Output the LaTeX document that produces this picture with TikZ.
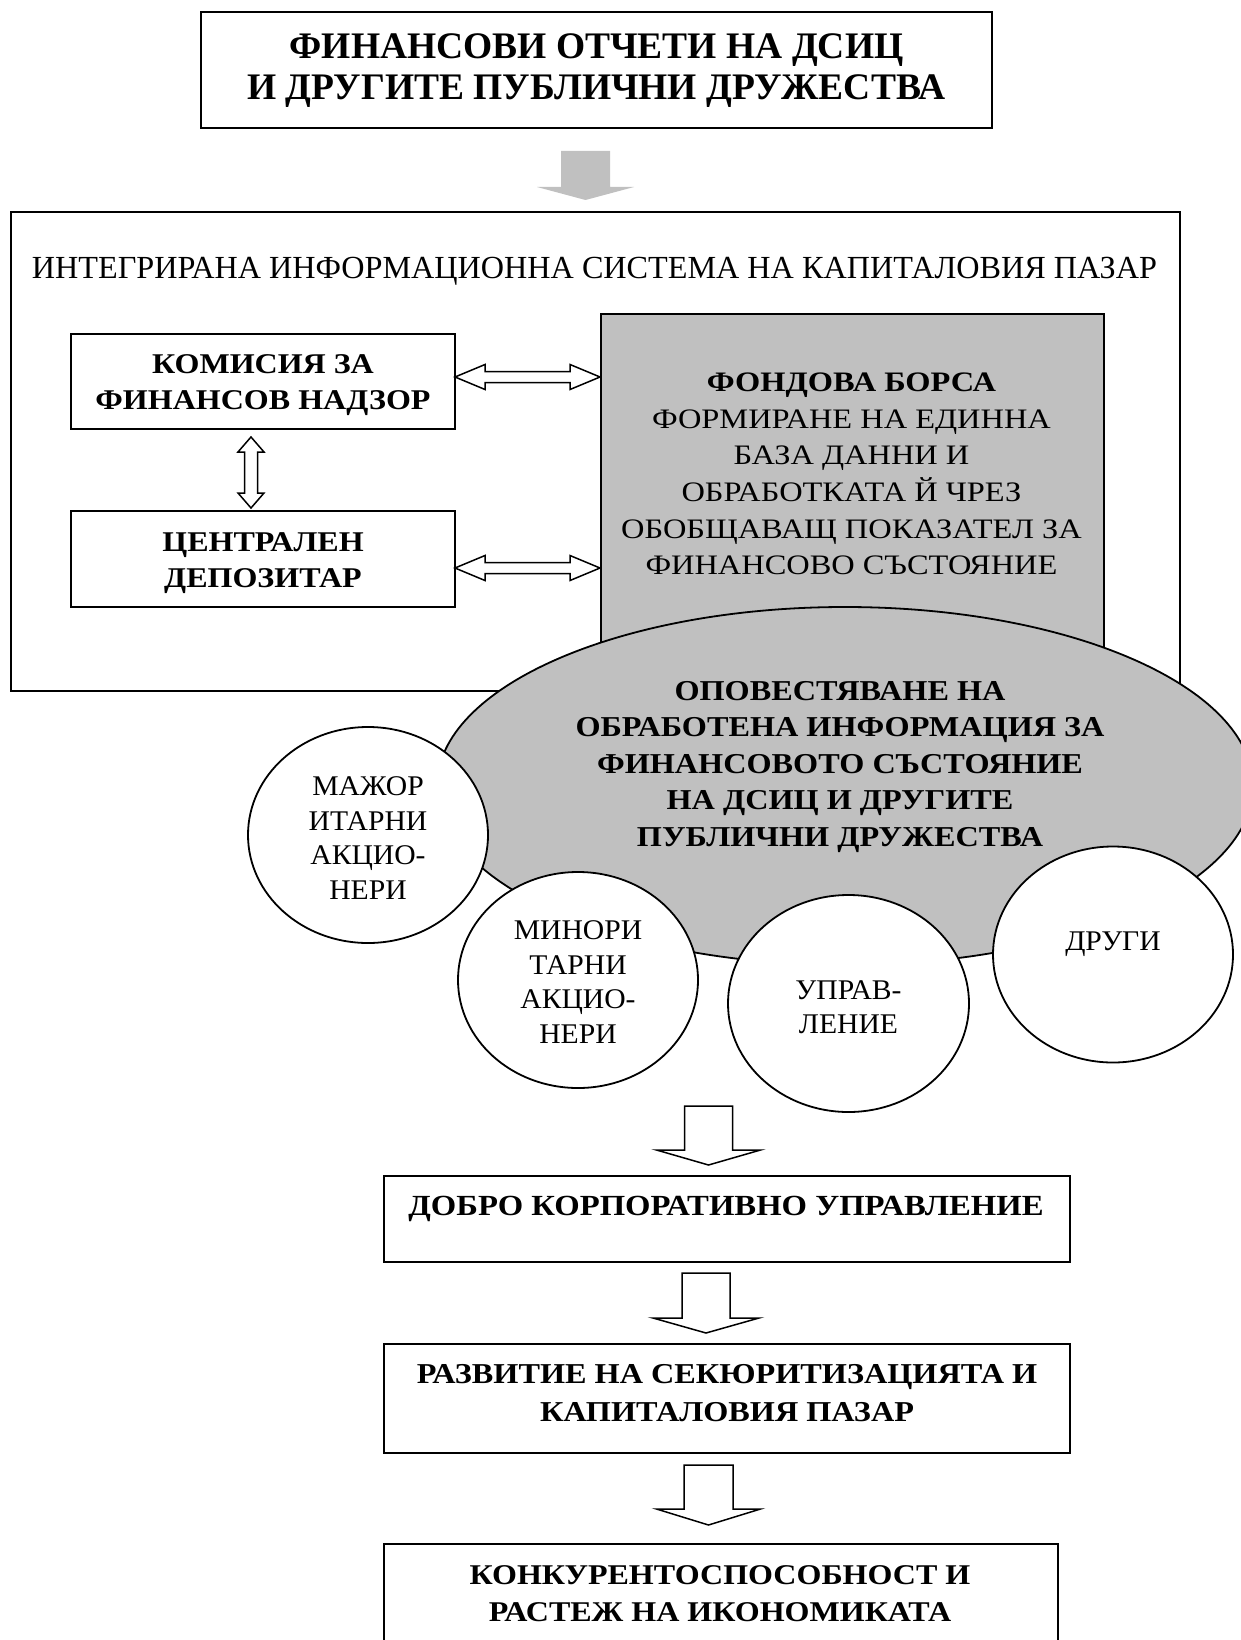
\documentclass[tikz,border=0pt]{standalone}
\usepackage{fontspec}
\setmainfont{Liberation Serif}
\newfontfamily\wideA[FakeStretch=1.12]{Liberation Serif}
\newfontfamily\wideB[FakeStretch=1.15]{Liberation Serif}
\newfontfamily\wideC[FakeStretch=1.04]{Liberation Serif}
\usetikzlibrary{shapes.geometric}
\definecolor{silver}{RGB}{192,192,192}
% block arrow pointing down: cx, half shaft, top, head base, half head, tip, style
\newcommand\blkdown[7]{\path[#7] (#1-#2,#3) -- (#1+#2,#3) -- (#1+#2,#4) -- (#1+#5,#4) -- (#1,#6) -- (#1-#5,#4) -- (#1-#2,#4) -- cycle;}
% horizontal double arrow: x1, x2, y, half shaft, half head, head length
\newcommand\dblh[6]{\draw[dblarrow] (#1,#3) -- (#1+#6,#3-#5) -- (#1+#6,#3-#4) -- (#2-#6,#3-#4) -- (#2-#6,#3-#5) -- (#2,#3) -- (#2-#6,#3+#5) -- (#2-#6,#3+#4) -- (#1+#6,#3+#4) -- (#1+#6,#3+#5) -- cycle;}
% vertical double arrow: y1, y2, x, half shaft, half head, head length
\newcommand\dblv[6]{\draw[dblarrow] (#3,#1) -- (#3+#5,#1+#6) -- (#3+#4,#1+#6) -- (#3+#4,#2-#6) -- (#3+#5,#2-#6) -- (#3,#2) -- (#3-#5,#2-#6) -- (#3-#4,#2-#6) -- (#3-#4,#1+#6) -- (#3-#5,#1+#6) -- cycle;}
\begin{document}
\begin{tikzpicture}[x=1pt,y=-1pt,line join=miter,
  box/.style={draw,line width=2pt,fill=white,inner sep=0pt,align=center},
  circ/.style={ellipse,draw,line width=1.8pt,fill=white,inner sep=0pt,minimum width=240,minimum height=216},
  dblarrow/.style={draw,fill=white,line width=1.5pt},
  hollowarrow/.style={draw,fill=white,line width=1.5pt},
  grayarrow/.style={fill=silver},
  ftop/.style={font=\fontsize{37.5}{41}\selectfont\bfseries},
  fbig/.style={font=\wideA\fontsize{28.6}{36.5}\selectfont\bfseries},
  fell/.style={font=\wideA\fontsize{28.8}{36.5}\selectfont\bfseries},
  ffb/.style={font=\wideB\fontsize{28.2}{36.6}\selectfont},
  fcirc/.style={font=\wideC\fontsize{28.5}{34.5}\selectfont},
  txt/.style={inner sep=0pt,align=center}]
\useasboundingbox (0,0) rectangle (1240,1640);
\fill[white] (0,0) rectangle (1240,1640);

% top box
\node[box,line width=2.2pt,minimum width=791,minimum height=116] (top) at (596.5,70) {};
\node[txt,ftop] (toptext) at (596.5,70.5)
  {ФИНАНСОВИ ОТЧЕТИ НА ДСИЦ\\И ДРУГИТЕ ПУБЛИЧНИ ДРУЖЕСТВА};

% gray arrow
\blkdown{585.5}{24.5}{151}{187}{48.5}{200}{grayarrow}

% big system box
\node[box,line width=2.4pt,minimum width=1169,minimum height=479,anchor=north west] (sys) at (10,211) {};
\node[txt,anchor=base,font=\fontsize{32.2}{37}\selectfont] (systitle) at (594.5,278)
  {ИНТЕГРИРАНА ИНФОРМАЦИОННА СИСТЕМА НА КАПИТАЛОВИЯ ПАЗАР};

% left boxes
\node[box,minimum width=384,minimum height=95] (kfn) at (263,381.5) {};
\node[txt,fbig] (kfntext) at (263,385) {КОМИСИЯ ЗА\\ФИНАНСОВ НАДЗОР};
\node[box,minimum width=384,minimum height=96] (cd) at (263,559) {};
\node[txt,fbig] (cdtext) at (263,563) {ЦЕНТРАЛЕН\\ДЕПОЗИТАР};

% stock exchange box
\node[box,fill=silver,minimum width=503,minimum height=387,anchor=north west] (fb) at (600,313) {};
\node[txt,ffb] (fbtext) at (851.5,474)
  {\textbf{ФОНДОВА БОРСА}\\ФОРМИРАНЕ НА ЕДИННА\\БАЗА ДАННИ И\\ОБРАБОТКАТА Й ЧРЕЗ\\ОБОБЩАВАЩ ПОКАЗАТЕЛ ЗА\\ФИНАНСОВО СЪСТОЯНИЕ};

% double arrows
\dblh{455}{600}{377}{5.5}{12.5}{30}
\dblh{455}{600}{568}{5.5}{12.5}{30}
\dblv{437}{508}{251}{6.5}{13}{15}

% disclosure ellipse
\node[ellipse,draw,line width=1.8pt,fill=silver,inner sep=0pt,minimum width=816,minimum height=358] (disc) at (845,786) {};
\node[txt,fell] (disctext) at (840,767)
  {ОПОВЕСТЯВАНЕ НА\\ОБРАБОТЕНА ИНФОРМАЦИЯ ЗА\\ФИНАНСОВОТО СЪСТОЯНИЕ\\НА ДСИЦ И ДРУГИТЕ\\ПУБЛИЧНИ ДРУЖЕСТВА};

% user circles
\node[circ] (maj) at (368,835) {};
\node[txt,fcirc] (majtext) at (368,838) {МАЖОР\\ИТАРНИ\\АКЦИО-\\НЕРИ};
\node[circ] (min) at (578,980) {};
\node[txt,fcirc] (mintext) at (578,982) {МИНОРИ\\ТАРНИ\\АКЦИО-\\НЕРИ};
\node[circ,minimum width=241,minimum height=217] (upr) at (848.5,1003.5) {};
\node[txt,fcirc] (uprtext) at (848.5,1007) {УПРАВ-\\ЛЕНИЕ};
\node[circ] (oth) at (1113,954.5) {};
\node[txt,anchor=base,fcirc] (othtext) at (1113,950) {ДРУГИ};

% arrow 1 and box
\blkdown{708.5}{24}{1106}{1150}{52}{1165}{hollowarrow}
\node[box,minimum width=686,minimum height=86,anchor=north west] (good) at (383,1175) {};
\node[txt,anchor=base,font=\wideA\fontsize{29.2}{37}\selectfont\bfseries] (goodtext) at (726,1215) {ДОБРО КОРПОРАТИВНО УПРАВЛЕНИЕ};

% arrow 2 and box
\blkdown{706}{24}{1273}{1318}{53}{1333}{hollowarrow}
\node[box,minimum width=686,minimum height=109,anchor=north west] (dev) at (383,1343) {};
\node[txt,font=\wideA\fontsize{28.8}{37.5}\selectfont\bfseries] (devtext) at (727,1393)
  {РАЗВИТИЕ НА СЕКЮРИТИЗАЦИЯТА И\\КАПИТАЛОВИЯ ПАЗАР};

% arrow 3 and box
\blkdown{708.5}{24.5}{1465}{1509}{52}{1525}{hollowarrow}
\node[box,minimum width=674,minimum height=130,anchor=north west] (comp) at (383,1543) {};
\node[txt,font=\wideA\fontsize{28.6}{37}\selectfont\bfseries] (comptext) at (720,1594)
  {КОНКУРЕНТОСПОСОБНОСТ И\\РАСТЕЖ НА ИКОНОМИКАТА};
\end{tikzpicture}
\end{document}
